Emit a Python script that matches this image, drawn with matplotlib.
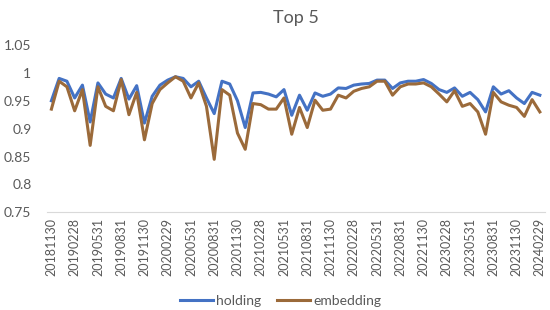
import matplotlib
matplotlib.use('Agg')
import matplotlib.pyplot as plt
import pandas as pd

months = pd.date_range('2018-11-30', periods=64, freq='ME').strftime('%Y%m%d').tolist()

holding = [0.950, 0.990, 0.985, 0.955, 0.978, 0.912, 0.982, 0.962, 0.955, 0.990,
           0.953, 0.977, 0.910, 0.958, 0.978, 0.987, 0.993, 0.990, 0.975, 0.985,
           0.955, 0.927, 0.985, 0.980, 0.950, 0.902, 0.964, 0.965, 0.962, 0.957,
           0.970, 0.924, 0.960, 0.933, 0.964, 0.958, 0.962, 0.973, 0.972, 0.978,
           0.980, 0.981, 0.987, 0.987, 0.972, 0.982, 0.985, 0.985, 0.988, 0.981,
           0.970, 0.965, 0.973, 0.958, 0.965, 0.952, 0.930, 0.975, 0.962, 0.968,
           0.955, 0.945, 0.965, 0.960]
embedding = [0.935, 0.985, 0.975, 0.932, 0.970, 0.870, 0.975, 0.940, 0.932, 0.988,
             0.925, 0.965, 0.880, 0.945, 0.970, 0.982, 0.993, 0.985, 0.955, 0.982,
             0.940, 0.845, 0.970, 0.960, 0.892, 0.863, 0.945, 0.943, 0.935, 0.935,
             0.955, 0.890, 0.938, 0.902, 0.951, 0.933, 0.935, 0.960, 0.955, 0.967,
             0.972, 0.975, 0.985, 0.985, 0.960, 0.975, 0.980, 0.980, 0.982, 0.975,
             0.962, 0.948, 0.968, 0.940, 0.945, 0.930, 0.890, 0.965, 0.948, 0.942,
             0.938, 0.922, 0.952, 0.930]

plt.rcParams['font.family'] = ['Lato', 'DejaVu Sans']
grey = '#595959'

fig, ax = plt.subplots(figsize=(5.5, 3.1), dpi=100)
fig.subplots_adjust(left=0.085, right=0.99, top=0.855, bottom=0.315)

x = range(len(months))
ax.plot(x, holding, color='#4472C4', linewidth=2.2, label='holding')
ax.plot(x, embedding, color='#9B6A3A', linewidth=2.2, label='embedding')

ax.set_title('Top 5', fontsize=13, color=grey, pad=16)
ax.set_ylim(0.75, 1.05)
ax.set_yticks([0.75, 0.8, 0.85, 0.9, 0.95, 1.0, 1.05])
ax.set_yticklabels(['0.75', '0.8', '0.85', '0.9', '0.95', '1', '1.05'])
ax.set_xlim(-0.6, len(months) - 0.4)
ax.set_xticks(list(x)[::3])
ax.set_xticklabels(months[::3], rotation=90)

for s in ['top', 'right', 'left']:
    ax.spines[s].set_visible(False)
ax.spines['bottom'].set_color('#d9d9d9')
ax.tick_params(axis='both', length=0, labelsize=10, colors=grey)
ax.tick_params(axis='x', pad=4, labelsize=9)
ax.tick_params(axis='y', pad=11)

ax.legend(loc='lower center', bbox_to_anchor=(0.47, -0.64), ncol=2, frameon=False,
          fontsize=10, labelcolor=grey, handlelength=2.4, columnspacing=1.1, handletextpad=0.25)

plt.savefig('out.png', dpi=100)
